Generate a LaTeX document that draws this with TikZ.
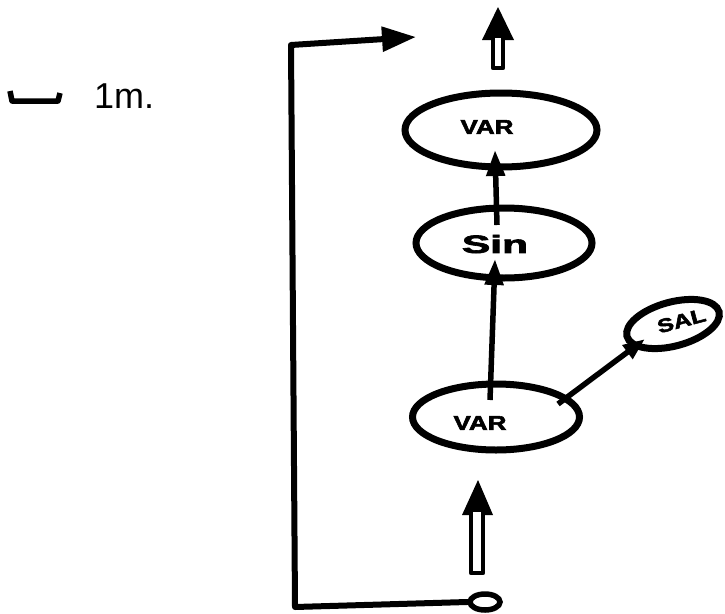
\documentclass[tikz,border=0pt]{standalone}
\usepackage{fontspec}
\usepackage{graphicx}
\setmainfont{Liberation Sans}
\newfontfamily\handfont[FakeBold=2.5]{Liberation Sans Bold}
\usetikzlibrary{shapes.geometric,arrows.meta}
\tikzset{
  blob/.style={ellipse, draw, line width=7pt, inner sep=0pt},
  lbl/.style={font=\handfont\fontsize{20}{22}\selectfont, inner sep=0pt},
  conn/.style={line width=5.5pt, -{Triangle[length=26pt,width=18pt]}},
  thick line/.style={line width=6pt, line cap=round, line join=round},
  bigarrow/.style={line width=4.5pt, line join=round, fill=white},
}
\begin{document}
\begin{tikzpicture}[x=1pt,y=-1pt]
\useasboundingbox (0,0) rectangle (725,613);

% scale bar
\coordinate (sb1) at (10,91);
\coordinate (sb2) at (12,101);
\coordinate (sb3) at (58,101);
\coordinate (sb4) at (60,93);
\draw[line width=5.5pt, line join=round] (sb1) -- (sb2) -- (sb3) -- (sb4);
\node[anchor=base west, inner sep=0pt, font=\fontsize{36}{38}\selectfont] (scale) at (94,108) {1m.};

% ellipses
\node[blob, minimum width=192pt, minimum height=74pt] (varT) at (501,130) {};
\node[lbl] (varTl) at (487,127) {\scalebox{1.3}[1]{VAR}};
\node[blob, minimum width=176pt, minimum height=70pt] (sin) at (504,243) {};
\node[lbl, font=\handfont\fontsize{25}{27}\selectfont] (sinl) at (495,244) {\scalebox{1.7}[1]{Sin}};
\node[blob, minimum width=167pt, minimum height=66pt] (varB) at (496,417) {};
\node[lbl] (varBl) at (480,423) {\scalebox{1.3}[1]{VAR}};
\node[blob, minimum width=92pt, minimum height=44pt, rotate=15, font=\handfont\fontsize{19}{21}\selectfont] (sal) at (673,324) {\hspace{18pt}\raisebox{2pt}{\scalebox{1.3}[1]{SAL}}};

% connectors
\coordinate (sinTop) at (497,225);
\coordinate (varTtip) at (495,150);
\draw[conn] (sinTop) -- (varTtip);
\coordinate (varBin) at (490,400);
\coordinate (sintip) at (495,259);
\draw[conn] (varBin) -- (sintip);
\coordinate (varBout) at (558,404);
\coordinate (saltip) at (645,339);
\draw[conn, -{Triangle[length=22pt,width=16pt]}] (varBout) -- (saltip);

% output double arrow (top)
\coordinate (outTip) at (498,7);
\fill (482,40) -- (outTip) -- (514,40) -- cycle;
\draw[bigarrow] (493,38) -- (493,68) -- (503,68) -- (503,38);

% input double arrow (bottom)
\coordinate (inTip) at (478,480);
\fill (462,515) -- (inTip) -- (493,515) -- cycle;
\draw[bigarrow] (471,512) -- (471,573) -- (483,573) -- (483,512);

% feedback loop
\node[ellipse, draw, line width=5.5pt, minimum width=30pt, minimum height=16pt, inner sep=0pt] (src) at (485,602) {};
\coordinate (c1) at (295,607);
\coordinate (c2) at (291,45);
\coordinate (fbtip) at (416,37);
\draw[thick line, -{Triangle[length=34pt,width=24pt]}] (src.west) -- (c1) -- (c2) -- (fbtip);
\end{tikzpicture}
\end{document}
